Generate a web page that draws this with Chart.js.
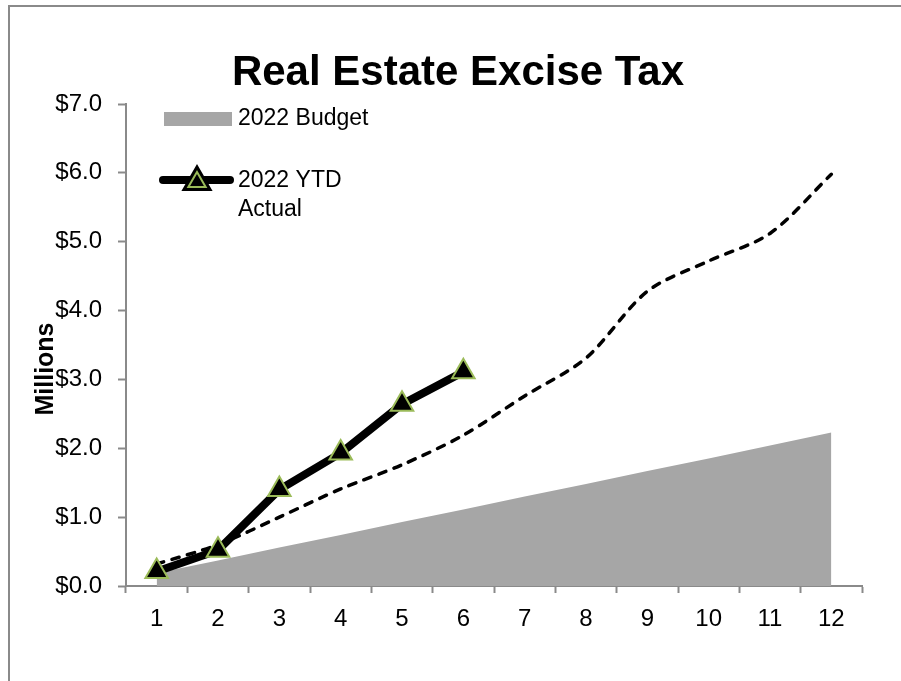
<!DOCTYPE html>
<html>
<head>
<meta charset="utf-8">
<title>Real Estate Excise Tax</title>
<script src="https://cdn.jsdelivr.net/npm/chart.js@4.4.1/dist/chart.umd.min.js"></script>
<style>
    html, body { margin: 0; padding: 0; background: #ffffff; }
    #wrap { width: 901px; height: 681px; }
</style>
</head>
<body>
<div id="wrap"><canvas id="reetChart" width="901" height="681"></canvas></div>
<script>
// Monthly cumulative REET, in millions of dollars
const months = ['1', '2', '3', '4', '5', '6', '7', '8', '9', '10', '11', '12'];
const budget2022 = [0.19, 0.37, 0.56, 0.74, 0.93, 1.11, 1.30, 1.48, 1.67, 1.85, 2.04, 2.23];
const priorYearActual = [0.32, 0.60, 1.00, 1.41, 1.76, 2.19, 2.76, 3.31, 4.28, 4.72, 5.12, 5.98];
const ytdActual2022 = [0.21, 0.52, 1.40, 1.93, 2.64, 3.11];

const FONT = '"Liberation Sans", Arial, sans-serif';
const AXIS_GRAY = '#8a8a8a';
const BUDGET_GRAY = '#a6a6a6';
const MARKER_GREEN = '#9bbb59';

// title, legend, axis title and outer frame are painted by hand
const decorations = {
    id: 'decorations',
    afterDraw(chart) {
        const ctx = chart.ctx;
        ctx.save();

        // frame
        ctx.strokeStyle = AXIS_GRAY;
        ctx.lineWidth = 2;
        ctx.beginPath();
        ctx.moveTo(9, 681);
        ctx.lineTo(9, 6);
        ctx.lineTo(901, 6);
        ctx.stroke();

        // title
        ctx.fillStyle = '#000';
        ctx.font = 'bold 42px ' + FONT;
        ctx.textAlign = 'center';
        ctx.textBaseline = 'alphabetic';
        ctx.fillText('Real Estate Excise Tax', 458, 85);

        // legend: budget
        ctx.fillStyle = BUDGET_GRAY;
        ctx.fillRect(164, 112, 68, 14);
        ctx.fillStyle = '#000';
        ctx.font = '23px ' + FONT;
        ctx.textAlign = 'left';
        ctx.textBaseline = 'middle';
        ctx.fillText('2022 Budget', 238, 119);

        // legend: ytd actual
        ctx.strokeStyle = '#000';
        ctx.lineWidth = 8;
        ctx.lineCap = 'round';
        ctx.beginPath();
        ctx.moveTo(163, 180);
        ctx.lineTo(230, 180);
        ctx.stroke();
        Chart.helpers.drawPoint(ctx, {
            pointStyle: 'triangle', rotation: 0, radius: 10, borderWidth: 2
        }, 197, 182);
        ctx.fillStyle = '#000';
        ctx.strokeStyle = MARKER_GREEN;
        ctx.lineWidth = 2;
        ctx.fill();
        ctx.stroke();
        ctx.fillText('2022 YTD', 238, 181);
        ctx.fillText('Actual', 238, 210);

        // y axis title
        ctx.font = 'bold 25px ' + FONT;
        ctx.translate(53, 369);
        ctx.rotate(-Math.PI / 2);
        ctx.textAlign = 'center';
        ctx.textBaseline = 'alphabetic';
        ctx.fillText('Millions', 0, 0);

        ctx.restore();
    }
};

const ctx = document.getElementById('reetChart').getContext('2d');
const reetChart = new Chart(ctx, {
    type: 'line',
    data: {
        labels: months,
        datasets: [
            {
                label: '2022 YTD Actual',
                data: ytdActual2022,
                borderColor: '#000000',
                borderWidth: 8,
                borderJoinStyle: 'round',
                pointStyle: 'triangle',
                pointRadius: 13,
                pointBackgroundColor: '#000000',
                pointBorderColor: MARKER_GREEN,
                pointBorderWidth: 2,
                tension: 0
            },
            {
                label: 'Prior Year Actual',
                data: priorYearActual,
                borderColor: '#000000',
                borderWidth: 3.5,
                borderDash: [7.5, 8.5],
                borderCapStyle: 'round',
                pointRadius: 0,
                tension: 0.3
            },
            {
                label: '2022 Budget',
                data: budget2022,
                borderWidth: 0,
                borderColor: BUDGET_GRAY,
                backgroundColor: BUDGET_GRAY,
                fill: 'origin',
                pointRadius: 0,
                tension: 0
            }
        ]
    },
    options: {
        responsive: false,
        devicePixelRatio: 1,
        animation: false,
        layout: { padding: { top: 104, right: 39, bottom: 0, left: 0 } },
        plugins: {
            legend: { display: false },
            title: { display: false },
            tooltip: { enabled: false }
        },
        scales: {
            x: {
                offset: true,
                afterFit: scale => { scale.height = 95; },
                grid: {
                    offset: true,
                    drawOnChartArea: false,
                    tickLength: 7,
                    tickWidth: 2,
                    tickColor: AXIS_GRAY
                },
                border: { color: AXIS_GRAY, width: 2 },
                ticks: {
                    color: '#000',
                    padding: 12,
                    maxRotation: 0,
                    font: { family: FONT, size: 24 }
                }
            },
            y: {
                min: 0,
                max: 7,
                afterFit: scale => { scale.width = 126; },
                grid: {
                    drawOnChartArea: false,
                    tickLength: 8,
                    tickWidth: 2,
                    tickColor: AXIS_GRAY
                },
                border: { color: AXIS_GRAY, width: 2 },
                ticks: {
                    stepSize: 1,
                    color: '#000',
                    padding: 16,
                    font: { family: FONT, size: 24 },
                    callback: value => '$' + value.toFixed(1)
                }
            }
        }
    },
    plugins: [decorations]
});
</script>
</body>
</html>
